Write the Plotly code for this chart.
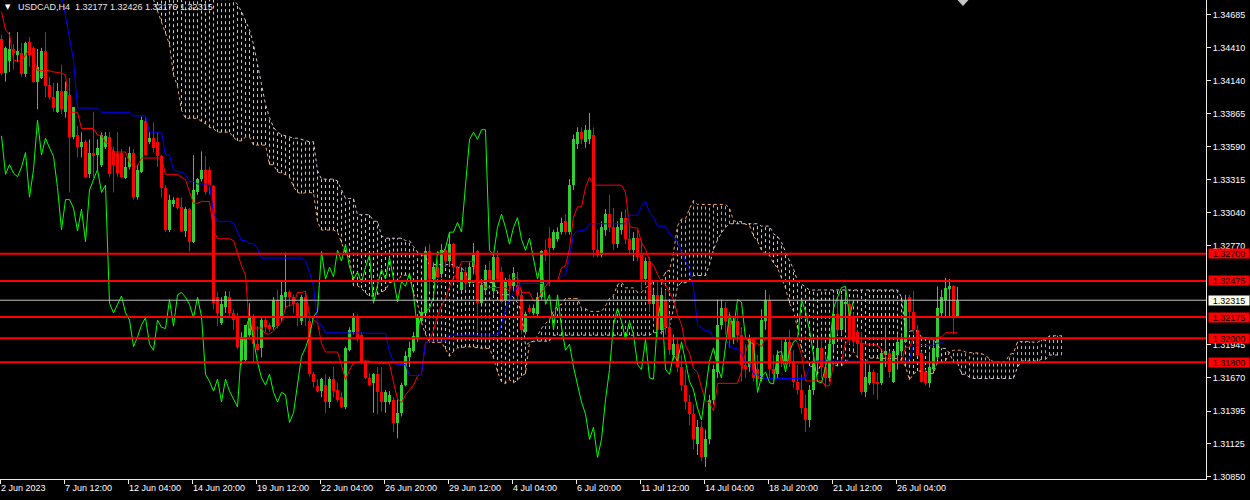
import plotly.graph_objects as go

# ---------------- data (USDCAD H4) ----------------
opens = [
 1.3448,1.3420,1.3430,1.3440,1.3435,1.3437,1.3419,1.3446,1.3441,1.3413,
 1.3416,1.3438,1.3410,1.3400,1.3388,1.3405,1.3388,1.3402,1.3367,1.3369,
 1.3359,1.3363,1.3336,1.3354,1.3352,1.3344,1.3359,1.3367,1.3355,1.3354,
 1.3354,1.3333,1.3342,1.3354,1.3317,1.3338,1.3380,1.3363,1.3366,1.3363,
 1.3351,1.3325,1.3290,1.3311,1.3316,1.3309,1.3289,1.3307,1.3280,1.3321,
 1.3332,1.3340,1.3340,1.3326,1.3234,1.3213,1.3226,1.3234,1.3221,1.3217,
 1.3182,1.3182,1.3203,1.3217,1.3195,1.3192,1.3215,1.3211,1.3209,1.3232,
 1.3218,1.3234,1.3238,1.3234,1.3229,1.3214,1.3234,1.3214,1.3170,1.3160,
 1.3156,1.3161,1.3147,1.3166,1.3157,1.3151,1.3143,1.3190,1.3205,1.3217,
 1.3203,1.3181,1.3167,1.3163,1.3170,1.3155,1.3147,1.3147,1.3149,1.3130,
 1.3138,1.3161,1.3184,1.3189,1.3199,1.3214,1.3221,1.3272,1.3249,1.3259,
 1.3253,1.3273,1.3264,1.3278,1.3259,1.3240,1.3255,1.3246,1.3259,1.3272,
 1.3229,1.3240,1.3257,1.3239,1.3267,1.3255,1.3232,1.3249,1.3243,1.3244,
 1.3236,1.3205,1.3225,1.3221,1.3220,1.3234,1.3273,1.3283,1.3275,1.3282,
 1.3288,1.3297,1.3288,1.3327,1.3361,1.3371,1.3363,1.3365,1.3369,1.3273,
 1.3269,1.3290,1.3303,1.3292,1.3278,1.3290,1.3300,1.3282,1.3273,1.3283,
 1.3269,1.3249,1.3264,1.3228,1.3236,1.3207,1.3232,1.3209,1.3186,1.3195,
 1.3176,1.3161,1.3147,1.3137,1.3112,1.3126,1.3101,1.3116,1.3149,1.3172,
 1.3211,1.3225,1.3214,1.3199,1.3214,1.3203,1.3178,1.3176,1.3199,1.3174,
 1.3166,1.3214,1.3232,1.3174,1.3170,1.3186,1.3181,1.3197,1.3181,1.3164,
 1.3157,1.3142,1.3132,1.3157,1.3181,1.3192,1.3176,1.3167,1.3195,1.3220,
 1.3207,1.3228,1.3228,1.3218,1.3205,1.3196,1.3155,1.3163,1.3172,1.3164,
 1.3163,1.3186,1.3188,1.3164,1.3186,1.3189,1.3197,1.3234,1.3222,1.3207,
 1.3188,1.3172,1.3163,1.3174,1.3184,1.3221,1.3232,1.3241,1.3243,1.32177]
highs = [
 1.3452,1.3442,1.3454,1.3444,1.3454,1.3445,1.3446,1.3450,1.3442,1.3440,
 1.3441,1.3454,1.3417,1.3412,1.3412,1.3427,1.3413,1.3416,1.3392,1.3376,
 1.3371,1.3365,1.3365,1.3388,1.3365,1.3371,1.3371,1.3371,1.3359,1.3371,
 1.3357,1.3350,1.3359,1.3357,1.3344,1.3384,1.3384,1.3371,1.3379,1.3371,
 1.3352,1.3327,1.3319,1.3317,1.3317,1.3317,1.3309,1.3308,1.3352,1.3333,
 1.3355,1.3351,1.3342,1.3327,1.3238,1.3234,1.3239,1.3239,1.3224,1.3221,
 1.3205,1.3211,1.3229,1.3220,1.3210,1.3217,1.3217,1.3213,1.3234,1.3240,
 1.3247,1.3271,1.3240,1.3236,1.3230,1.3236,1.3239,1.3217,1.3172,1.3166,
 1.3167,1.3170,1.3168,1.3176,1.3163,1.3155,1.3193,1.3209,1.3221,1.3220,
 1.3205,1.3182,1.3171,1.3171,1.3176,1.3176,1.3157,1.3156,1.3151,1.3149,
 1.3163,1.3189,1.3197,1.3205,1.3220,1.3224,1.3276,1.3278,1.3263,1.3265,
 1.3278,1.3276,1.3288,1.3279,1.3260,1.3259,1.3259,1.3263,1.3279,1.3273,
 1.3249,1.3261,1.3264,1.3269,1.3273,1.3259,1.3250,1.3253,1.3259,1.3255,
 1.3240,1.3222,1.3228,1.3228,1.3238,1.3273,1.3282,1.3292,1.3290,1.3292,
 1.3300,1.3303,1.3332,1.3369,1.3375,1.3375,1.3377,1.3387,1.3375,1.3290,
 1.3297,1.3307,1.3319,1.3308,1.3297,1.3305,1.3307,1.3294,1.3288,1.3290,
 1.3282,1.3267,1.3267,1.3240,1.3247,1.3242,1.3240,1.3220,1.3203,1.3200,
 1.3186,1.3174,1.3153,1.3145,1.3132,1.3131,1.3124,1.3153,1.3178,1.3232,
 1.3232,1.3230,1.3222,1.3217,1.3225,1.3209,1.3195,1.3203,1.3200,1.3186,
 1.3224,1.3240,1.3236,1.3186,1.3190,1.3199,1.3200,1.3207,1.3190,1.3178,
 1.3170,1.3153,1.3161,1.3184,1.3199,1.3199,1.3186,1.3199,1.3236,1.3234,
 1.3236,1.3239,1.3232,1.3221,1.3207,1.3205,1.3182,1.3178,1.3174,1.3171,
 1.3189,1.3211,1.3189,1.3190,1.3203,1.3203,1.3236,1.3236,1.3239,1.3211,
 1.3189,1.3174,1.3188,1.3199,1.3243,1.3240,1.3250,1.3249,1.3244,1.32426]
lows = [
 1.3418,1.3413,1.3421,1.3423,1.3429,1.3417,1.3417,1.3425,1.3412,1.3390,
 1.3415,1.3400,1.3398,1.3388,1.3387,1.3386,1.3383,1.3321,1.3365,1.3350,
 1.3350,1.3333,1.3333,1.3333,1.3340,1.3342,1.3357,1.3334,1.3321,1.3334,
 1.3333,1.3332,1.3340,1.3315,1.3315,1.3337,1.3351,1.3361,1.3354,1.3342,
 1.3317,1.3288,1.3288,1.3309,1.3307,1.3288,1.3284,1.3272,1.3279,1.3319,
 1.3330,1.3319,1.3319,1.3224,1.3210,1.3211,1.3221,1.3218,1.3207,1.3191,
 1.3178,1.3181,1.3201,1.3180,1.3189,1.3184,1.3205,1.3205,1.3207,1.3208,
 1.3214,1.3224,1.3226,1.3221,1.3210,1.3211,1.3210,1.3168,1.3159,1.3155,
 1.3151,1.3138,1.3142,1.3151,1.3147,1.3142,1.3141,1.3189,1.3203,1.3197,
 1.3178,1.3166,1.3160,1.3138,1.3137,1.3139,1.3138,1.3145,1.3122,1.3117,
 1.3135,1.3160,1.3176,1.3188,1.3197,1.3213,1.3220,1.3239,1.3246,1.3250,
 1.3250,1.3259,1.3259,1.3255,1.3246,1.3239,1.3240,1.3244,1.3253,1.3205,
 1.3228,1.3236,1.3246,1.3236,1.3246,1.3228,1.3229,1.3232,1.3239,1.3232,
 1.3203,1.3203,1.3220,1.3219,1.3217,1.3232,1.3264,1.3243,1.3273,1.3280,
 1.3286,1.3286,1.3286,1.3323,1.3357,1.3361,1.3358,1.3361,1.3267,1.3267,
 1.3267,1.3285,1.3288,1.3273,1.3275,1.3286,1.3278,1.3269,1.3264,1.3264,
 1.3240,1.3244,1.3222,1.3214,1.3199,1.3203,1.3203,1.3186,1.3182,1.3172,
 1.3156,1.3141,1.3128,1.3108,1.3103,1.3098,1.3093,1.3112,1.3145,1.3167,
 1.3207,1.3203,1.3192,1.3195,1.3197,1.3164,1.3167,1.3172,1.3164,1.3161,
 1.3164,1.3207,1.3167,1.3164,1.3166,1.3176,1.3178,1.3176,1.3159,1.3153,
 1.3137,1.3122,1.3126,1.3153,1.3172,1.3167,1.3159,1.3164,1.3190,1.3203,
 1.3203,1.3207,1.3195,1.3193,1.3185,1.3153,1.3151,1.3161,1.3153,1.3149,
 1.3161,1.3176,1.3167,1.3163,1.3174,1.3185,1.3196,1.3207,1.3203,1.3185,
 1.3163,1.3161,1.3159,1.3172,1.3182,1.3218,1.3218,1.3218,1.3203,1.32176]
closes = [
 1.3420,1.3441,1.3440,1.3437,1.3438,1.3419,1.3445,1.3435,1.3413,1.3425,
 1.3438,1.3409,1.3400,1.3391,1.3405,1.3390,1.3405,1.3367,1.3392,1.3359,
 1.3363,1.3334,1.3354,1.3351,1.3358,1.3369,1.3368,1.3336,1.3344,1.3337,
 1.3334,1.3342,1.3354,1.3317,1.3340,1.3381,1.3352,1.3366,1.3358,1.3351,
 1.3325,1.3290,1.3315,1.3315,1.3308,1.3289,1.3307,1.3280,1.3323,1.3332,
 1.3340,1.3321,1.3327,1.3229,1.3221,1.3228,1.3235,1.3221,1.3215,1.3193,
 1.3201,1.3211,1.3217,1.3195,1.3190,1.3215,1.3209,1.3208,1.3232,1.3210,
 1.3236,1.3238,1.3234,1.3228,1.3217,1.3234,1.3218,1.3170,1.3164,1.3156,
 1.3166,1.3147,1.3166,1.3156,1.3149,1.3143,1.3192,1.3207,1.3218,1.3199,
 1.3180,1.3167,1.3161,1.3170,1.3155,1.3147,1.3155,1.3153,1.3130,1.3138,
 1.3161,1.3185,1.3192,1.3202,1.3218,1.3222,1.3272,1.3249,1.3259,1.3251,
 1.3273,1.3264,1.3278,1.3259,1.3249,1.3255,1.3246,1.3259,1.3269,1.3229,
 1.3244,1.3257,1.3249,1.3267,1.3249,1.3230,1.3247,1.3243,1.3254,1.3236,
 1.3207,1.3220,1.3222,1.3225,1.3234,1.3272,1.3269,1.3275,1.3288,1.3288,
 1.3296,1.3288,1.3327,1.3365,1.3371,1.3365,1.3373,1.3373,1.3273,1.3269,
 1.3292,1.3303,1.3292,1.3278,1.3292,1.3300,1.3282,1.3273,1.3283,1.3267,
 1.3249,1.3264,1.3228,1.3236,1.3207,1.3236,1.3209,1.3190,1.3195,1.3176,
 1.3161,1.3147,1.3137,1.3116,1.3126,1.3101,1.3116,1.3149,1.3174,1.3211,
 1.3225,1.3214,1.3199,1.3214,1.3203,1.3178,1.3174,1.3199,1.3167,1.3166,
 1.3215,1.3232,1.3174,1.3170,1.3186,1.3181,1.3197,1.3181,1.3164,1.3157,
 1.3142,1.3132,1.3157,1.3181,1.3192,1.3176,1.3167,1.3195,1.3220,1.3207,
 1.3232,1.3230,1.3200,1.3197,1.3195,1.3155,1.3168,1.3172,1.3163,1.3162,
 1.3188,1.3189,1.3172,1.3189,1.3197,1.3199,1.3232,1.3222,1.3207,1.3186,
 1.3164,1.3163,1.3176,1.3192,1.3225,1.3234,1.3242,1.3243,1.3218,1.32315]

# Ichimoku values at the left edge, whose history lies before the visible window
tenkan_early = [1.3471,1.3456,1.3452,1.3431,1.3430,1.3430,1.3435,1.3440]
kijun_early = [1.3545]*12 + [1.3540,1.3522,1.3505,1.3485,1.3469,1.3449,1.3431,
                             1.3391,1.3391,1.3391,1.3391,1.3391,1.3391]
span_b_early = ([1.3560]*20 + [1.3540]*7 + [1.3510]*3 + [1.3495] +
                [1.3485,1.3481,1.3477,1.3471,1.3464,1.3456,1.3444,1.3427,1.3410,1.3394,
                 1.3383,1.3375,1.3371,1.3369,1.3368,1.3367,1.3366,1.3366,1.3365,1.3364])

date_labels = ["2 Jun 2023", "7 Jun 12:00", "12 Jun 04:00", "14 Jun 20:00", "19 Jun 12:00",
               "22 Jun 04:00", "26 Jun 20:00", "29 Jun 12:00", "4 Jul 04:00", "6 Jul 20:00",
               "11 Jul 12:00", "14 Jul 04:00", "18 Jul 20:00", "21 Jul 12:00", "26 Jul 04:00"]
label_every = 16
price_ticks = [1.34685, 1.34410, 1.34140, 1.33865, 1.33590, 1.33315, 1.33040, 1.32770,
               1.31945, 1.31670, 1.31395, 1.31125, 1.30850]
level_lines = [1.32700, 1.32475, 1.32175, 1.32000, 1.31800]
symbol = "USDCAD,H4"

# ---------------- Ichimoku (9, 26, 52) ----------------
n = len(closes)
T_WIN, K_WIN, B_WIN, SHIFT = 9, 26, 52, 26


def mid(i, w):
    return (max(highs[i - w + 1:i + 1]) + min(lows[i - w + 1:i + 1])) / 2


tenkan = [tenkan_early[i] if i < T_WIN - 1 else mid(i, T_WIN) for i in range(n)]
kijun = [kijun_early[i] if i < K_WIN - 1 else mid(i, K_WIN) for i in range(n)]
m = n + SHIFT
span_a = [None] * m
span_b = [None] * m
for i in range(n):
    span_a[i + SHIFT] = (tenkan[i] + kijun[i]) / 2
for j, v in enumerate(span_b_early):
    span_b[SHIFT + j] = v
for i in range(B_WIN - 1, n):
    span_b[i + SHIFT] = mid(i, B_WIN)

# ---------------- styling ----------------
BG = "#000000"
BULL = "#32CD32"
BEAR = "#FF0000"
AXIS = "#EEEEDD"
FONT = "Liberation Sans"
SANDY = "#F4A460"
THISTLE = "#D8BFD8"
HATCH_DASH = "3px,3px"
X0 = -0.375  # left edge of the plot, in bar units

fig = go.Figure()

# cloud hatch
up_x, up_y, dn_x, dn_y = [], [], [], []
for k in range(m):
    a, b = span_a[k], span_b[k]
    if a is None or b is None:
        continue
    if a >= b:
        up_x += [k, k, None]; up_y += [b, a, None]
    else:
        dn_x += [k, k, None]; dn_y += [a, b, None]
fig.add_trace(go.Scatter(x=dn_x, y=dn_y, mode="lines", hoverinfo="skip",
                         line=dict(color=THISTLE, width=1, dash=HATCH_DASH)))
fig.add_trace(go.Scatter(x=up_x, y=up_y, mode="lines", hoverinfo="skip",
                         line=dict(color=SANDY, width=1, dash=HATCH_DASH)))
xs_all = list(range(m))
fig.add_trace(go.Scatter(x=xs_all, y=span_a, mode="lines", hoverinfo="skip",
                         line=dict(color=SANDY, width=1, dash=HATCH_DASH)))
fig.add_trace(go.Scatter(x=xs_all, y=span_b, mode="lines", hoverinfo="skip",
                         line=dict(color=THISTLE, width=1, dash=HATCH_DASH)))

# candles: wicks
for up in (True, False):
    wx, wy = [], []
    for i in range(n):
        if (closes[i] >= opens[i]) == up:
            wx += [i, i, None]
            wy += [lows[i], highs[i], None]
    fig.add_trace(go.Scatter(x=wx, y=wy, mode="lines", hoverinfo="skip",
                             line=dict(color=BULL if up else BEAR, width=1)))

# candles: bodies
MIN_BODY = 0.00009
for up in (True, False):
    bx, bh, bb = [], [], []
    for i in range(n):
        if (closes[i] >= opens[i]) == up:
            bx.append(i)
            bh.append(max(abs(closes[i] - opens[i]), MIN_BODY))
            bb.append(min(opens[i], closes[i]))
    fig.add_trace(go.Bar(x=bx, y=bh, base=bb, width=0.75, hoverinfo="skip",
                         marker=dict(color=BULL if up else BEAR, line=dict(width=0))))

# Ichimoku lines
fig.add_trace(go.Scatter(x=list(range(n)), y=tenkan, mode="lines", hoverinfo="skip",
                         line=dict(color="#FF0000", width=1)))
fig.add_trace(go.Scatter(x=list(range(n)), y=kijun, mode="lines", hoverinfo="skip",
                         line=dict(color="#0000FF", width=1)))
fig.add_trace(go.Scatter(x=list(range(n - SHIFT)), y=closes[SHIFT:], mode="lines",
                         hoverinfo="skip", line=dict(color="#00FF00", width=1)))

# horizontal level lines + bid line
shapes = []
for lv in level_lines:
    shapes.append(dict(type="line", xref="paper", x0=0, x1=1, yref="y", y0=lv, y1=lv,
                       line=dict(color="#FF0000", width=2), layer="above"))
shapes.append(dict(type="line", xref="paper", x0=0, x1=1, yref="y",
                   y0=closes[-1], y1=closes[-1], line=dict(color="#C0C0C0", width=1),
                   layer="above"))
# chart-shift marker at the top
shapes.append(dict(type="path", xref="paper", yref="paper",
                   path="M 0.7940 1 L 0.8030 1 L 0.7985 0.9875 Z",
                   fillcolor="#C8C8C8", line=dict(width=0), layer="above"))

annotations = []
for lv in level_lines:
    annotations.append(dict(xref="paper", x=1, xanchor="left", xshift=2, yref="y", y=lv,
                            yanchor="middle", text=f"{lv:.5f}", showarrow=False,
                            bgcolor="#FF0000", borderpad=0, width=40, height=9,
                            align="center", valign="middle",
                            font=dict(family=FONT, size=9, color="#000000")))
annotations.append(dict(xref="paper", x=1, xanchor="left", xshift=2, yref="y", y=closes[-1],
                        yanchor="middle", text=f"{closes[-1]:.5f}", showarrow=False,
                        bgcolor="#FFFFF0", borderpad=0, width=40, height=9,
                        align="center", valign="middle",
                        font=dict(family=FONT, size=9, color="#000000")))
title_text = (f"{symbol}\u00a0\u00a0{opens[-1]:.5f} {highs[-1]:.5f} "
              f"{lows[-1]:.5f} {closes[-1]:.5f}")
annotations.append(dict(xref="paper", x=0, xshift=16, xanchor="left", yref="paper", y=1,
                        yshift=-7, yanchor="middle", text=title_text, showarrow=False,
                        font=dict(family=FONT, size=9, color="#E8E8E8")))
annotations.append(dict(xref="paper", x=0, xshift=3, xanchor="left", yref="paper", y=1,
                        yshift=-7, yanchor="middle", text="\u25BC", showarrow=False,
                        font=dict(family="DejaVu Sans", size=7, color="#FFFFFF")))

tick_bars = [k * label_every for k in range(len(date_labels))]

fig.update_layout(
    width=1250, height=500,
    margin=dict(l=0, r=44, t=0, b=21),
    paper_bgcolor=BG, plot_bgcolor=BG,
    showlegend=False, barmode="overlay", bargap=0, hovermode=False,
    shapes=shapes, annotations=annotations,
)
fig.update_xaxes(range=[X0, X0 + 301.5], tickmode="array",
                 tickvals=[b + X0 for b in tick_bars], ticktext=date_labels,
                 ticks="outside", ticklen=4, tickwidth=1, tickcolor=AXIS,
                 showline=True, linecolor=AXIS, linewidth=1,
                 showgrid=False, zeroline=False, ticklabelposition="outside right",
                 tickfont=dict(family=FONT, size=9, color="#FFFFFF"), fixedrange=True)
fig.update_yaxes(side="right", range=[1.30831, 1.34807], tickmode="array",
                 tickvals=price_ticks, ticktext=[f"{v:.5f}" for v in price_ticks],
                 ticks="outside", ticklen=4, tickwidth=1, tickcolor=AXIS,
                 showline=True, linecolor=AXIS, linewidth=1,
                 showgrid=False, zeroline=False,
                 tickfont=dict(family=FONT, size=9, color="#FFFFFF"), fixedrange=True)

fig.write_html("out.html", config={"displayModeBar": False},
               post_script="document.body.style.margin='0';document.body.style.overflow='hidden';")
